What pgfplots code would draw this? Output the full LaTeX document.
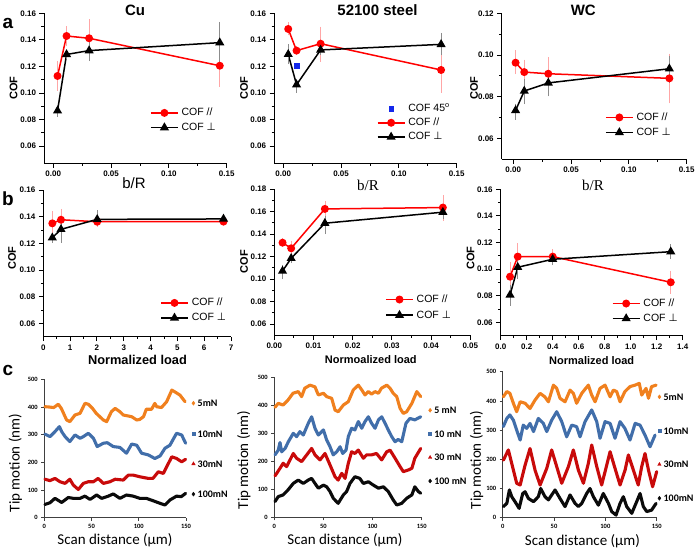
\documentclass[border=0pt]{standalone}
\usepackage{fontspec}
\setmainfont{Liberation Sans}
\newfontfamily\tnr{Liberation Serif}
\newfontfamily\calibri{Carlito}
\newfontfamily\dejavu{DejaVu Sans}
\usepackage{pgfplots}
\pgfplotsset{compat=1.18}
\definecolor{corange}{RGB}{240,128,30}
\definecolor{cblue}{RGB}{65,110,170}
\definecolor{cred}{RGB}{200,10,10}
\definecolor{cblack}{RGB}{10,10,10}
\definecolor{sqblue}{RGB}{20,40,235}
\pgfplotsset{
  panelab/.style={
    scale only axis, clip=false, scaled ticks=false,
    axis x line*=bottom, axis y line*=left,
    axis line style={line width=0.9pt},
    tick align=outside, major tick length=4.5pt, minor tick length=2.5pt,
    every tick/.append style={line width=0.9pt, black},
    minor x tick num=1, minor y tick num=1,
    tick label style={font=\bfseries\fontsize{8}{9}\selectfont},
    /pgf/number format/assume math mode=true,
    yticklabel style={/pgf/number format/fixed, /pgf/number format/fixed zerofill, /pgf/number format/precision=2},
    legend cell align=left,
    legend image code/.code={\draw[mark repeat=2,mark phase=2,##1] plot coordinates {(0pt,0pt) (13.5pt,0pt) (27pt,0pt)};},
    legend style={draw=none, fill=none, inner sep=0pt, anchor=north west, font=\fontsize{10.5}{12}\selectfont, column sep=3pt, nodes={inner sep=0pt, text height=7pt, text depth=1pt}},
  },
  sqleg/.style={legend image code/.code={\draw[##1] plot coordinates {(13.5pt,0pt)};}},
  redser/.style={red, line width=1.5pt, mark=*, mark size=3.2pt, mark options={solid},
    error bars/y dir=both, error bars/y explicit,
    error bars/error bar style={red!35, line width=0.6pt},
    error bars/error mark options={red!35, mark size=2.5pt, line width=0.6pt}},
  blkser/.style={black, line width=1.5pt, mark=triangle*, mark size=3.8pt, mark options={solid},
    error bars/y dir=both, error bars/y explicit,
    error bars/error bar style={black!45, line width=0.6pt},
    error bars/error mark options={black!45, mark size=2.5pt, line width=0.6pt}},
  panelc/.style={
    scale only axis, clip=false, xmin=0, xmax=150, ymin=0, ymax=500,
    axis x line*=bottom, axis y line*=left,
    axis line style={line width=0.6pt, black!75},
    tick align=outside, major tick length=3pt,
    every tick/.append style={line width=0.6pt, black!75},
    xtick={0,50,100,150}, ytick={0,100,200,300,400,500},
    tick label style={font=\calibri\bfseries\fontsize{6.5}{8}\selectfont},
    /pgf/number format/assume math mode=true,
    legend cell align=left,
    legend image code/.code={\draw[##1] plot coordinates {(0pt,0pt)};},
    legend style={draw=none, fill=none, inner sep=0pt, anchor=north west, font=\calibri\bfseries\fontsize{10}{12}\selectfont, column sep=2.5pt, nodes={inner sep=0pt, text height=7pt, text depth=0pt}},
  },
  trace/.style={line width=3.1pt, line join=round, line cap=round, no marks, forget plot},
}
\begin{document}
\begin{tikzpicture}
\useasboundingbox (0,0) rectangle (698pt,-552pt);

% ---------------- a1 Cu
\begin{axis}[panelab, at={(44pt,-163.3pt)}, anchor=south west, width=182.7pt, height=150pt,
  xmin=-0.008, xmax=0.15, ymin=0.047, ymax=0.16,
  xtick={0,0.05,0.1,0.15}, ytick={0.06,0.08,0.1,0.12,0.14,0.16},
  xticklabel style={/pgf/number format/fixed, /pgf/number format/fixed zerofill, /pgf/number format/precision=2},
  legend style={at={(0.580,0.364)}, row sep=6.7pt}]
\addplot[redser] coordinates {
 (0.0037,0.1128) += (0,0.0095) -= (0,0.0093)
 (0.0115,0.1429) += (0,0.0055) -= (0,0.0060)
 (0.031,0.1412) += (0,0.0125) -= (0,0.0126)
 (0.144,0.1205) += (0,0.0131) -= (0,0.0138)};
\addlegendentry{COF //}
\addplot[blkser] coordinates {
 (0.0037,0.0866) += (0,0.0028) -= (0,0.0028)
 (0.0115,0.1290) += (0,0.0015) -= (0,0.0015)
 (0.031,0.1319) += (0,0.0060) -= (0,0.0060)
 (0.144,0.1379) += (0,0.0138) -= (0,0.0143)};
\addlegendentry{COF {\dejavu ⊥}}
\end{axis}

% ---------------- a2 steel
\begin{axis}[panelab, at={(274pt,-163.3pt)}, anchor=south west, width=182.7pt, height=150pt,
  xmin=-0.008, xmax=0.15, ymin=0.047, ymax=0.16,
  xtick={0,0.05,0.1,0.15}, ytick={0.06,0.08,0.1,0.12,0.14,0.16},
  xticklabel style={/pgf/number format/fixed, /pgf/number format/fixed zerofill, /pgf/number format/precision=2},
  legend style={at={(0.562,0.393)}, row sep=6.2pt}]
\addplot[only marks, mark=square*, sqblue, mark size=2.3pt, sqleg] coordinates {(0.0115,0.1206)};
\addlegendentry{COF 45\textsuperscript{o}}
\addplot[redser] coordinates {
 (0.0043,0.1482) += (0,0.0030) -= (0,0.0030)
 (0.0115,0.1319) += (0,0.0015) -= (0,0.0015)
 (0.0323,0.1371) += (0,0.0110) -= (0,0.0118)
 (0.1365,0.1173) += (0,0.0156) -= (0,0.0151)};
\addlegendentry{COF //}
\addplot[blkser] coordinates {
 (0.0043,0.1291) += (0,0.0058) -= (0,0.0055)
 (0.0115,0.1062) += (0,0.0025) -= (0,0.0040)
 (0.0323,0.1324) += (0,0.0020) -= (0,0.0020)
 (0.1365,0.1366) += (0,0.0068) -= (0,0.0062)};
\addlegendentry{COF {\dejavu ⊥}}
\end{axis}

% ---------------- a3 WC
\begin{axis}[panelab, at={(501.7pt,-159.2pt)}, anchor=south west, width=185pt, height=145.9pt,
  xmin=-0.01, xmax=0.15, ymin=0.05, ymax=0.12,
  xtick={0,0.05,0.1,0.15}, ytick={0.06,0.08,0.1,0.12},
  xticklabel style={/pgf/number format/fixed, /pgf/number format/fixed zerofill, /pgf/number format/precision=2},
  legend style={at={(0.558,0.315)}, row sep=7pt}]
\addplot[redser] coordinates {
 (0.002,0.0963) += (0,0.0048) -= (0,0.0043)
 (0.0095,0.0918) += (0,0.0048) -= (0,0.0043)
 (0.0303,0.0910) += (0,0.0066) -= (0,0.0068)
 (0.135,0.0888) += (0,0.0107) -= (0,0.0108)};
\addlegendentry{COF //}
\addplot[blkser] coordinates {
 (0.002,0.0734) += (0,0.0021) -= (0,0.0033)
 (0.0095,0.0827) += (0,0.0045) -= (0,0.0051)
 (0.0303,0.0866) += (0,0.0038) -= (0,0.0053)
 (0.135,0.0934) += (0,0.0050) -= (0,0.0054)};
\addlegendentry{COF {\dejavu ⊥}}
\end{axis}

% ---------------- b1 Cu
\begin{axis}[panelab, at={(43.3pt,-336.7pt)}, anchor=south west, width=187.7pt, height=146.7pt,
  xmin=0, xmax=7, ymin=0.05, ymax=0.16,
  xtick={0,1,2,3,4,5,6,7}, ytick={0.06,0.08,0.1,0.12,0.14,0.16},
  legend style={at={(0.622,0.259)}, row sep=7pt}]
\addplot[redser] coordinates {
 (0.336,0.1350) += (0,0.0075) -= (0,0.0075)
 (0.66,0.1377) += (0,0.0063) -= (0,0.0050)
 (2.01,0.1362) += (0,0.0020) -= (0,0.0020)
 (6.72,0.1363) += (0,0.0010) -= (0,0.0010)};
\addlegendentry{COF //}
\addplot[blkser] coordinates {
 (0.336,0.1242) += (0,0.0020) -= (0,0.0020)
 (0.66,0.1305) += (0,0.0058) -= (0,0.0080)
 (2.01,0.1380) += (0,0.0050) -= (0,0.0020)
 (6.72,0.1383) += (0,0.0010) -= (0,0.0010)};
\addlegendentry{COF {\dejavu ⊥}}
\end{axis}

% ---------------- b2 steel
\begin{axis}[panelab, at={(274.3pt,-335.25pt)}, anchor=south west, width=196pt, height=146.25pt,
  xmin=0, xmax=0.05, ymin=0.05, ymax=0.18,
  xtick={0,0.01,0.02,0.03,0.04,0.05}, ytick={0.06,0.08,0.1,0.12,0.14,0.16,0.18},
  xticklabel style={/pgf/number format/fixed, /pgf/number format/fixed zerofill, /pgf/number format/precision=2},
  legend style={at={(0.565,0.273)}, row sep=7.7pt}]
\addplot[redser] coordinates {
 (0.0021,0.1323) += (0,0.0015) -= (0,0.0015)
 (0.0043,0.1273) += (0,0.0045) -= (0,0.0045)
 (0.0129,0.1623) += (0,0.0050) -= (0,0.0053)
 (0.0430,0.1635) += (0,0.0090) -= (0,0.0095)};
\addlegendentry{COF //}
\addplot[blkser] coordinates {
 (0.0021,0.1071) += (0,0.0033) -= (0,0.0050)
 (0.0043,0.1184) += (0,0.0020) -= (0,0.0020)
 (0.0129,0.1496) += (0,0.0044) -= (0,0.0074)
 (0.0430,0.1594) += (0,0.0036) -= (0,0.0040)};
\addlegendentry{COF {\dejavu ⊥}}
\end{axis}

% ---------------- b3 WC
\begin{axis}[panelab, at={(500.7pt,-335.6pt)}, anchor=south west, width=182pt, height=146.3pt,
  xmin=0, xmax=1.4, ymin=0.05, ymax=0.16,
  xtick={0,0.2,0.4,0.6,0.8,1.0,1.2,1.4}, ytick={0.06,0.08,0.1,0.12,0.14,0.16},
  xticklabel style={/pgf/number format/fixed, /pgf/number format/fixed zerofill, /pgf/number format/precision=1},
  legend style={at={(0.610,0.248)}, row sep=7pt}]
\addplot[redser] coordinates {
 (0.072,0.0943) += (0,0.0093) -= (0,0.0088)
 (0.131,0.1094) += (0,0.0080) -= (0,0.0088)
 (0.40,0.1094) += (0,0.0038) -= (0,0.0038)
 (1.308,0.0901) += (0,0.0068) -= (0,0.0066)};
\addlegendentry{COF //}
\addplot[blkser] coordinates {
 (0.072,0.0806) += (0,0.0056) -= (0,0.0064)
 (0.131,0.1014) += (0,0.0035) -= (0,0.0070)
 (0.40,0.1074) += (0,0.0025) -= (0,0.0025)
 (1.308,0.1131) += (0,0.0038) -= (0,0.0038)};
\addlegendentry{COF {\dejavu ⊥}}
\end{axis}

% ---------------- c1 Cu
\begin{axis}[panelc, at={(44.3pt,-517.7pt)}, anchor=south west, width=141.7pt, height=138.4pt,
  legend style={at={(1.039,0.854)}, row sep=23.3pt}]
\addplot[trace, corange] coordinates {(0.7,401)(5,400)(10,398)(14.8,410)(18,395)(23.6,353)(27,347)(32.5,371)(37.8,377)(43,413)(46.6,410)(51,395)(55,377)(62.5,353)(66,347)(71,383)(75,395)(80,383)(83.6,371)(92.5,365)(97.8,353)(101,355)(105,365)(108,392)(113.6,392)(117,413)(119,401)(124,398)(129.5,419)(135,461)(138,455)(143.6,443)(149,419)};
\addplot[trace, cblue] coordinates {(0.7,302)(6,293)(11.3,311)(16,329)(18.4,311)(22,293)(27,275)(32.5,299)(37.8,287)(41.3,293)(46.6,305)(52,287)(56,257)(62.5,269)(66.7,271)(73,257)(80,254)(87,233)(92.5,266)(97.8,262)(103,233)(110,227)(117,214)(122.5,223)(127.8,251)(133,262)(140,305)(145.4,299)(149.6,269)};
\addplot[trace, cred] coordinates {(0.7,139)(6,134)(11.3,142)(16.6,130)(22,124)(27,139)(30.7,118)(36,102)(41.3,124)(46.6,130)(52,130)(57,142)(62.5,124)(69.5,130)(75,139)(83.6,136)(89,154)(94,154)(101,148)(110,142)(115,142)(120.7,166)(126,160)(129.5,184)(135,220)(140,214)(145.4,202)(149.6,211)};
\addplot[trace, cblack] coordinates {(0.7,48)(6,54)(11.3,70)(18.4,55)(25.4,73)(30.7,70)(37.8,70)(43,78)(48.4,66)(55.4,82)(60.7,70)(67.8,78)(73,86)(80,70)(87,82)(94,78)(101,70)(108,70)(115.4,61)(122.5,52)(127.8,46)(133,64)(140,78)(145,76)(149.6,88)};
\addlegendimage{only marks, mark=diamond*, corange, mark size=2pt}
\addlegendentry{5mN}
\addlegendimage{only marks, mark=square*, cblue, mark size=1.5pt}
\addlegendentry{10mN}
\addlegendimage{only marks, mark=triangle*, cred, mark size=2pt}
\addlegendentry{30mN}
\addlegendimage{only marks, mark=diamond*, cblack, mark size=2pt}
\addlegendentry{100mN}
\end{axis}

% ---------------- c2 steel
\begin{axis}[panelc, at={(274.3pt,-517.3pt)}, anchor=south west, width=147.4pt, height=140pt,
  legend style={at={(1.044,0.791)}, row sep=16.6pt}]
\addplot[trace, corange] coordinates {(0.7,393)(4,407)(9,401)(14,419)(19,443)(24.4,449)(27.8,431)(31,461)(36.3,472)(41.4,466)(44.8,437)(50,443)(53.3,431)(58.4,425)(61.8,383)(65,377)(70.3,401)(75.3,413)(80.4,455)(85.5,472)(89,455)(92.3,437)(95.7,449)(99,440)(102.5,449)(106,443)(109,461)(114.4,472)(117.8,461)(121,443)(124.6,431)(128,389)(131.3,371)(134.7,377)(140,407)(145,449)(149,431)};
\addplot[trace, cblue] coordinates {(0.7,223)(4,240)(5.8,267)(7.5,234)(11,246)(14.3,270)(19.3,300)(22.7,288)(26,306)(29.5,294)(34.6,336)(38,359)(41.4,318)(44.8,294)(50,312)(53.3,276)(56.7,252)(60,223)(63.5,234)(66.9,252)(69.6,228)(73,240)(75.3,288)(78.7,318)(82,312)(85.5,342)(89,318)(92.3,342)(95.7,359)(99,336)(102.5,318)(106,348)(109.3,359)(112.7,336)(116,312)(119.5,288)(122.9,270)(126,278)(129.7,270)(134,336)(138,353)(143,348)(149,359)};
\addplot[trace, cred] coordinates {(0.7,148)(5.8,175)(9,193)(12.5,181)(16,205)(19.3,228)(22.7,211)(27.8,199)(33,223)(38,246)(41.4,223)(46.5,205)(51.6,228)(56.7,187)(61.8,145)(65,133)(68.6,157)(72,139)(75.3,193)(78.7,234)(82,228)(85.5,240)(90.6,211)(94,223)(99,223)(104,228)(109.3,205)(114.4,234)(117.8,240)(122.9,211)(128,181)(131.3,163)(136.4,169)(140,175)(143,211)(149,246)};
\addplot[trace, cblack] coordinates {(0.7,56)(4,74)(9,80)(14,98)(19.3,121)(24.4,133)(29.5,121)(34.6,133)(38,139)(41.4,121)(44.8,104)(50,115)(53.3,109)(56.7,92)(60,68)(65,50)(70.3,80)(73.6,92)(77,121)(82,145)(87,139)(90.6,121)(95.7,127)(100.8,115)(106,104)(111,109)(116,92)(121,62)(124.6,44)(129.7,50)(134.7,68)(140,80)(143,109)(146.6,92)(149,86)};
\addlegendimage{only marks, mark=diamond*, corange, mark size=2pt}
\addlegendentry{5 mN}
\addlegendimage{only marks, mark=square*, cblue, mark size=1.5pt}
\addlegendentry{10 mN}
\addlegendimage{only marks, mark=triangle*, cred, mark size=2pt}
\addlegendentry{30 mN}
\addlegendimage{only marks, mark=diamond*, cblack, mark size=2pt}
\addlegendentry{100 mN}
\end{axis}

% ---------------- c3 WC
\begin{axis}[panelc, at={(502.7pt,-517.7pt)}, anchor=south west, width=154pt, height=146pt,
  legend style={at={(1.005,0.853)}, row sep=26.8pt}]
\addplot[trace, corange] coordinates {(0.6,414)(4,432)(7,426)(10.4,392)(13.6,363)(17,397)(21.8,392)(26.6,374)(31.5,403)(36.4,426)(41,414)(44.5,397)(49.4,454)(52.6,443)(55.8,409)(60.7,397)(65.6,437)(68.8,426)(72,392)(77,426)(83.4,454)(86.7,420)(90,397)(94.8,443)(99.7,454)(104.6,414)(107.8,437)(111,432)(114.3,397)(119,432)(124,449)(128.9,454)(133,460)(135.4,420)(139.6,443)(142,409)(145,449)(149.4,454)};
\addplot[trace, cblue] coordinates {(0.6,312)(4,340)(7,352)(10.4,334)(13.6,300)(17,266)(20,317)(23.4,306)(26.6,323)(30,295)(34.7,340)(39.6,323)(42.9,295)(47.7,334)(52.6,363)(57.5,329)(62.3,277)(67.2,317)(72,312)(75.3,277)(80.2,329)(86.7,369)(91.6,329)(94.8,272)(99.7,329)(104.6,323)(109.4,272)(114.3,329)(119,306)(124,266)(129,323)(133.8,317)(138.6,283)(143.5,243)(148.4,283)};
\addplot[trace, cred] coordinates {(0.6,197)(5.5,232)(10.4,163)(13.6,118)(17,112)(21.8,180)(26.6,237)(31.5,163)(36.4,112)(42.9,169)(47.7,232)(52.6,175)(57.5,118)(64,175)(68.8,232)(73.7,163)(78.6,118)(83.4,186)(86.7,249)(91.6,175)(96.4,112)(101.3,180)(104.6,226)(109.4,169)(114.3,112)(119.2,163)(122.4,215)(127.3,163)(132,112)(135.4,175)(138.6,220)(142,163)(146,106)(150,158)};
\addplot[trace, cblack] coordinates {(0.6,38)(4,49)(6.5,95)(8.8,72)(12,55)(16,32)(19.5,83)(21.8,89)(25,66)(30,55)(34.7,72)(37,100)(41.2,72)(44.5,61)(51,95)(55.8,66)(60.7,38)(65.6,78)(70.5,49)(73.7,38)(77,49)(81.8,83)(85,100)(88.3,72)(93.2,43)(98,83)(103,49)(106.2,21)(110.4,9)(114.3,49)(117.5,72)(120.8,38)(125.7,15)(130.5,55)(133.8,83)(137,38)(140.3,21)(145,26)(149.4,49)};
\addlegendimage{only marks, mark=diamond*, corange, mark size=2pt}
\addlegendentry{5mN}
\addlegendimage{only marks, mark=square*, cblue, mark size=1.5pt}
\addlegendentry{10mN}
\addlegendimage{only marks, mark=triangle*, cred, mark size=2pt}
\addlegendentry{30mN}
\addlegendimage{only marks, mark=diamond*, cblack, mark size=2pt}
\addlegendentry{100mN}
\end{axis}

% ---------------- text
\node[font=\bfseries\fontsize{19}{20}\selectfont] at (8pt,-23pt) {a};
\node[font=\bfseries\fontsize{19}{20}\selectfont] at (8pt,-199pt) {b};
\node[font=\bfseries\fontsize{19}{20}\selectfont] at (8pt,-370pt) {c};
\node[font=\bfseries\fontsize{15}{16}\selectfont] at (135pt,-10pt) {Cu};
\node[font=\bfseries\fontsize{15}{16}\selectfont] at (377.5pt,-10pt) {52100 steel};
\node[font=\bfseries\fontsize{15}{16}\selectfont] at (583.3pt,-10pt) {WC};
\foreach \xx/\yy in {13.5/88.3, 244/88.3, 474/88.3, 12/258, 244/261.7, 470.7/258.3}
  \node[font=\bfseries\fontsize{11}{12}\selectfont, rotate=90] at (\xx pt,-\yy pt) {COF};
\node[font=\fontsize{15}{16}\selectfont] at (134pt,-183.5pt) {b/R};
\node[font=\tnr\fontsize{15}{16}\selectfont] at (368pt,-185pt) {b/R};
\node[font=\tnr\fontsize{15}{16}\selectfont] at (593pt,-185pt) {b/R};
\node[font=\bfseries\fontsize{12.8}{14}\selectfont] at (137.5pt,-360pt) {Normalized load};
\node[font=\bfseries\fontsize{11}{12}\selectfont] at (370.8pt,-360pt) {Normoalized load};
\node[font=\bfseries\fontsize{11}{12}\selectfont] at (591.7pt,-361pt) {Normalized load};
\node[font=\calibri\fontsize{15}{16}\selectfont, rotate=90] at (15.3pt,-463pt) {Tip motion (nm)};
\node[font=\calibri\fontsize{15}{16}\selectfont, rotate=90] at (243.8pt,-460pt) {Tip motion (nm)};
\node[font=\calibri\fontsize{15}{16}\selectfont, rotate=90] at (476.7pt,-460pt) {Tip motion (nm)};
\node[font=\calibri\fontsize{15}{16}\selectfont] at (115pt,-540pt) {Scan distance (µm)};
\node[font=\calibri\fontsize{15}{16}\selectfont] at (345pt,-540pt) {Scan distance (µm)};
\node[font=\calibri\fontsize{15}{16}\selectfont] at (582.5pt,-541.7pt) {Scan distance (µm)};
\end{tikzpicture}
\end{document}
